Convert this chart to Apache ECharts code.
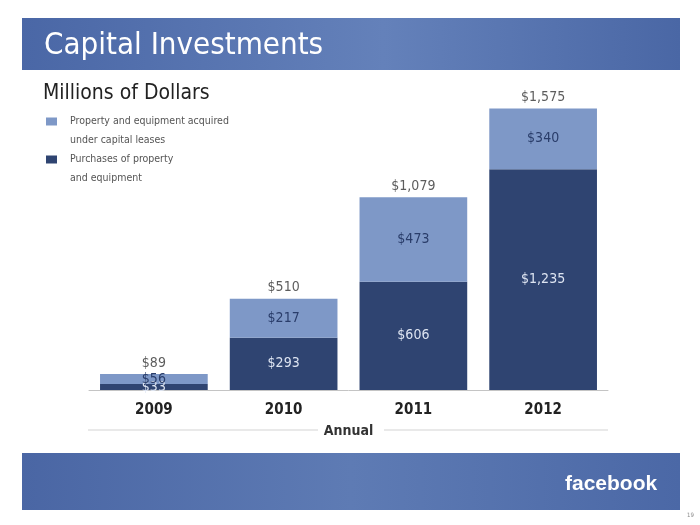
<!DOCTYPE html>
<html>
<head>
<meta charset="utf-8">
<script src="https://cdn.jsdelivr.net/npm/echarts@6/dist/echarts.min.js"></script>
<style>html,body{margin:0;padding:0;background:#fff;}#c{width:700px;height:525px;}</style>
</head>
<body>
<div id="c"></div>
<script>
const categories = ['2009', '2010', '2011', '2012'];
const purchases = [33, 293, 606, 1235];
const leases = [56, 217, 473, 340];
const legendLabels = ['Property and equipment acquired\nunder capital leases', 'Purchases of property\nand equipment'];
const titleText = 'Capital Investments';
const subtitleText = 'Millions of Dollars';
const axisName = 'Annual';

const totals = categories.map((c, i) => purchases[i] + leases[i]);
const fmt = v => '$' + v.toLocaleString('en-US');
const FONT = '"DejaVu Sans Condensed", "DejaVu Sans", sans-serif';
const LIGHT = '#7e98c7';
const DARK = '#2f4471';

function legendCfg(name, color, top) {
  return {
    data: [name], left: 41, top: top, padding: 0, orient: 'vertical',
    itemWidth: 0, itemHeight: 0, icon: 'rect', itemStyle: { opacity: 0 },
    formatter: n => n.split('\n').map((line, i) => (i === 0 ? '{sq|}{gap|}' : '{ind|}') + '{t|' + line + '}').join('\n'),
    textStyle: {
      fontFamily: FONT, fontSize: 10.5, color: '#555', lineHeight: 19,
      rich: {
        sq: { width: 11, height: 8, backgroundColor: color },
        gap: { width: 13 },
        ind: { width: 24 },
        t: { fontFamily: FONT, fontSize: 10.5, color: '#555', lineHeight: 19 }
      }
    }
  };
}

const chart = echarts.init(document.getElementById('c'));
chart.setOption({
  backgroundColor: '#fff',
  animation: false,
  textStyle: { fontFamily: FONT },
  graphic: [
    { type: 'rect', shape: { x: 22, y: 18, width: 658, height: 52 },
      style: { fill: new echarts.graphic.LinearGradient(0, 0, 1, 0, [
        { offset: 0, color: '#4a67a6' }, { offset: 0.55, color: '#6481ba' }, { offset: 1, color: '#4a67a5' }]) }, z: 0 },
    { type: 'text', x: 44, y: 46, style: { text: titleText, fill: '#fff', font: '31px ' + FONT, verticalAlign: 'middle' }, z: 1 },
    { type: 'text', x: 43, y: 94, style: { text: subtitleText, fill: '#222', font: '21px ' + FONT, verticalAlign: 'middle' } },
    { type: 'rect', shape: { x: 22, y: 453, width: 658, height: 57 },
      style: { fill: new echarts.graphic.LinearGradient(0, 0, 1, 0, [
        { offset: 0, color: '#4a66a4' }, { offset: 0.5, color: '#5e7bb4' }, { offset: 1, color: '#4b68a6' }]) }, z: 0 },
    { type: 'text', x: 565, y: 484, style: { text: 'facebook', fill: '#fff', font: 'bold 21px "Liberation Sans", Arial, sans-serif', verticalAlign: 'middle' }, z: 1 },
    { type: 'text', x: 687, y: 515, style: { text: '19', fill: '#888', font: '6px ' + FONT, verticalAlign: 'middle' } },
    { type: 'line', shape: { x1: 88, y1: 430, x2: 318, y2: 430 }, style: { stroke: '#e2e2e2', lineWidth: 1.5 } },
    { type: 'line', shape: { x1: 384, y1: 430, x2: 608, y2: 430 }, style: { stroke: '#e2e2e2', lineWidth: 1.5 } }
  ],
  legend: [
    legendCfg(legendLabels[0], LIGHT, 112),
    legendCfg(legendLabels[1], DARK, 150)
  ],
  grid: { left: 89, right: 92, top: 104, bottom: 135 },
  xAxis: {
    type: 'category', data: categories,
    axisLine: { show: true, lineStyle: { color: '#c4c4c4', width: 1 } },
    axisTick: { show: false },
    axisLabel: { fontSize: 15, fontWeight: 'bold', color: '#222', margin: 13, fontFamily: FONT },
    name: axisName, nameLocation: 'middle', nameGap: 34,
    nameTextStyle: { fontSize: 14, fontWeight: 'bold', color: '#333', fontFamily: FONT }
  },
  yAxis: { type: 'value', min: 0, max: 1600, show: false, splitLine: { show: false } },
  series: [
    { name: legendLabels[1], type: 'bar', stack: 'total', data: purchases, barWidth: '83%',
      itemStyle: { color: DARK },
      label: { show: true, position: 'inside', color: '#dde4f1', fontSize: 14, fontFamily: FONT, formatter: p => fmt(p.value) } },
    { name: legendLabels[0], type: 'bar', stack: 'total', data: leases, barWidth: '83%',
      itemStyle: { color: LIGHT },
      label: { show: true, position: 'inside', color: '#2a3d6a', fontSize: 14, fontFamily: FONT, formatter: p => fmt(p.value) } },
    { name: 'Total', type: 'scatter', data: totals, symbolSize: 0, silent: true, z: 5,
      label: { show: true, position: 'top', distance: 4, color: '#333', fontSize: 14, fontFamily: FONT, formatter: p => fmt(p.value) } }
  ]
});
</script>
</body>
</html>
